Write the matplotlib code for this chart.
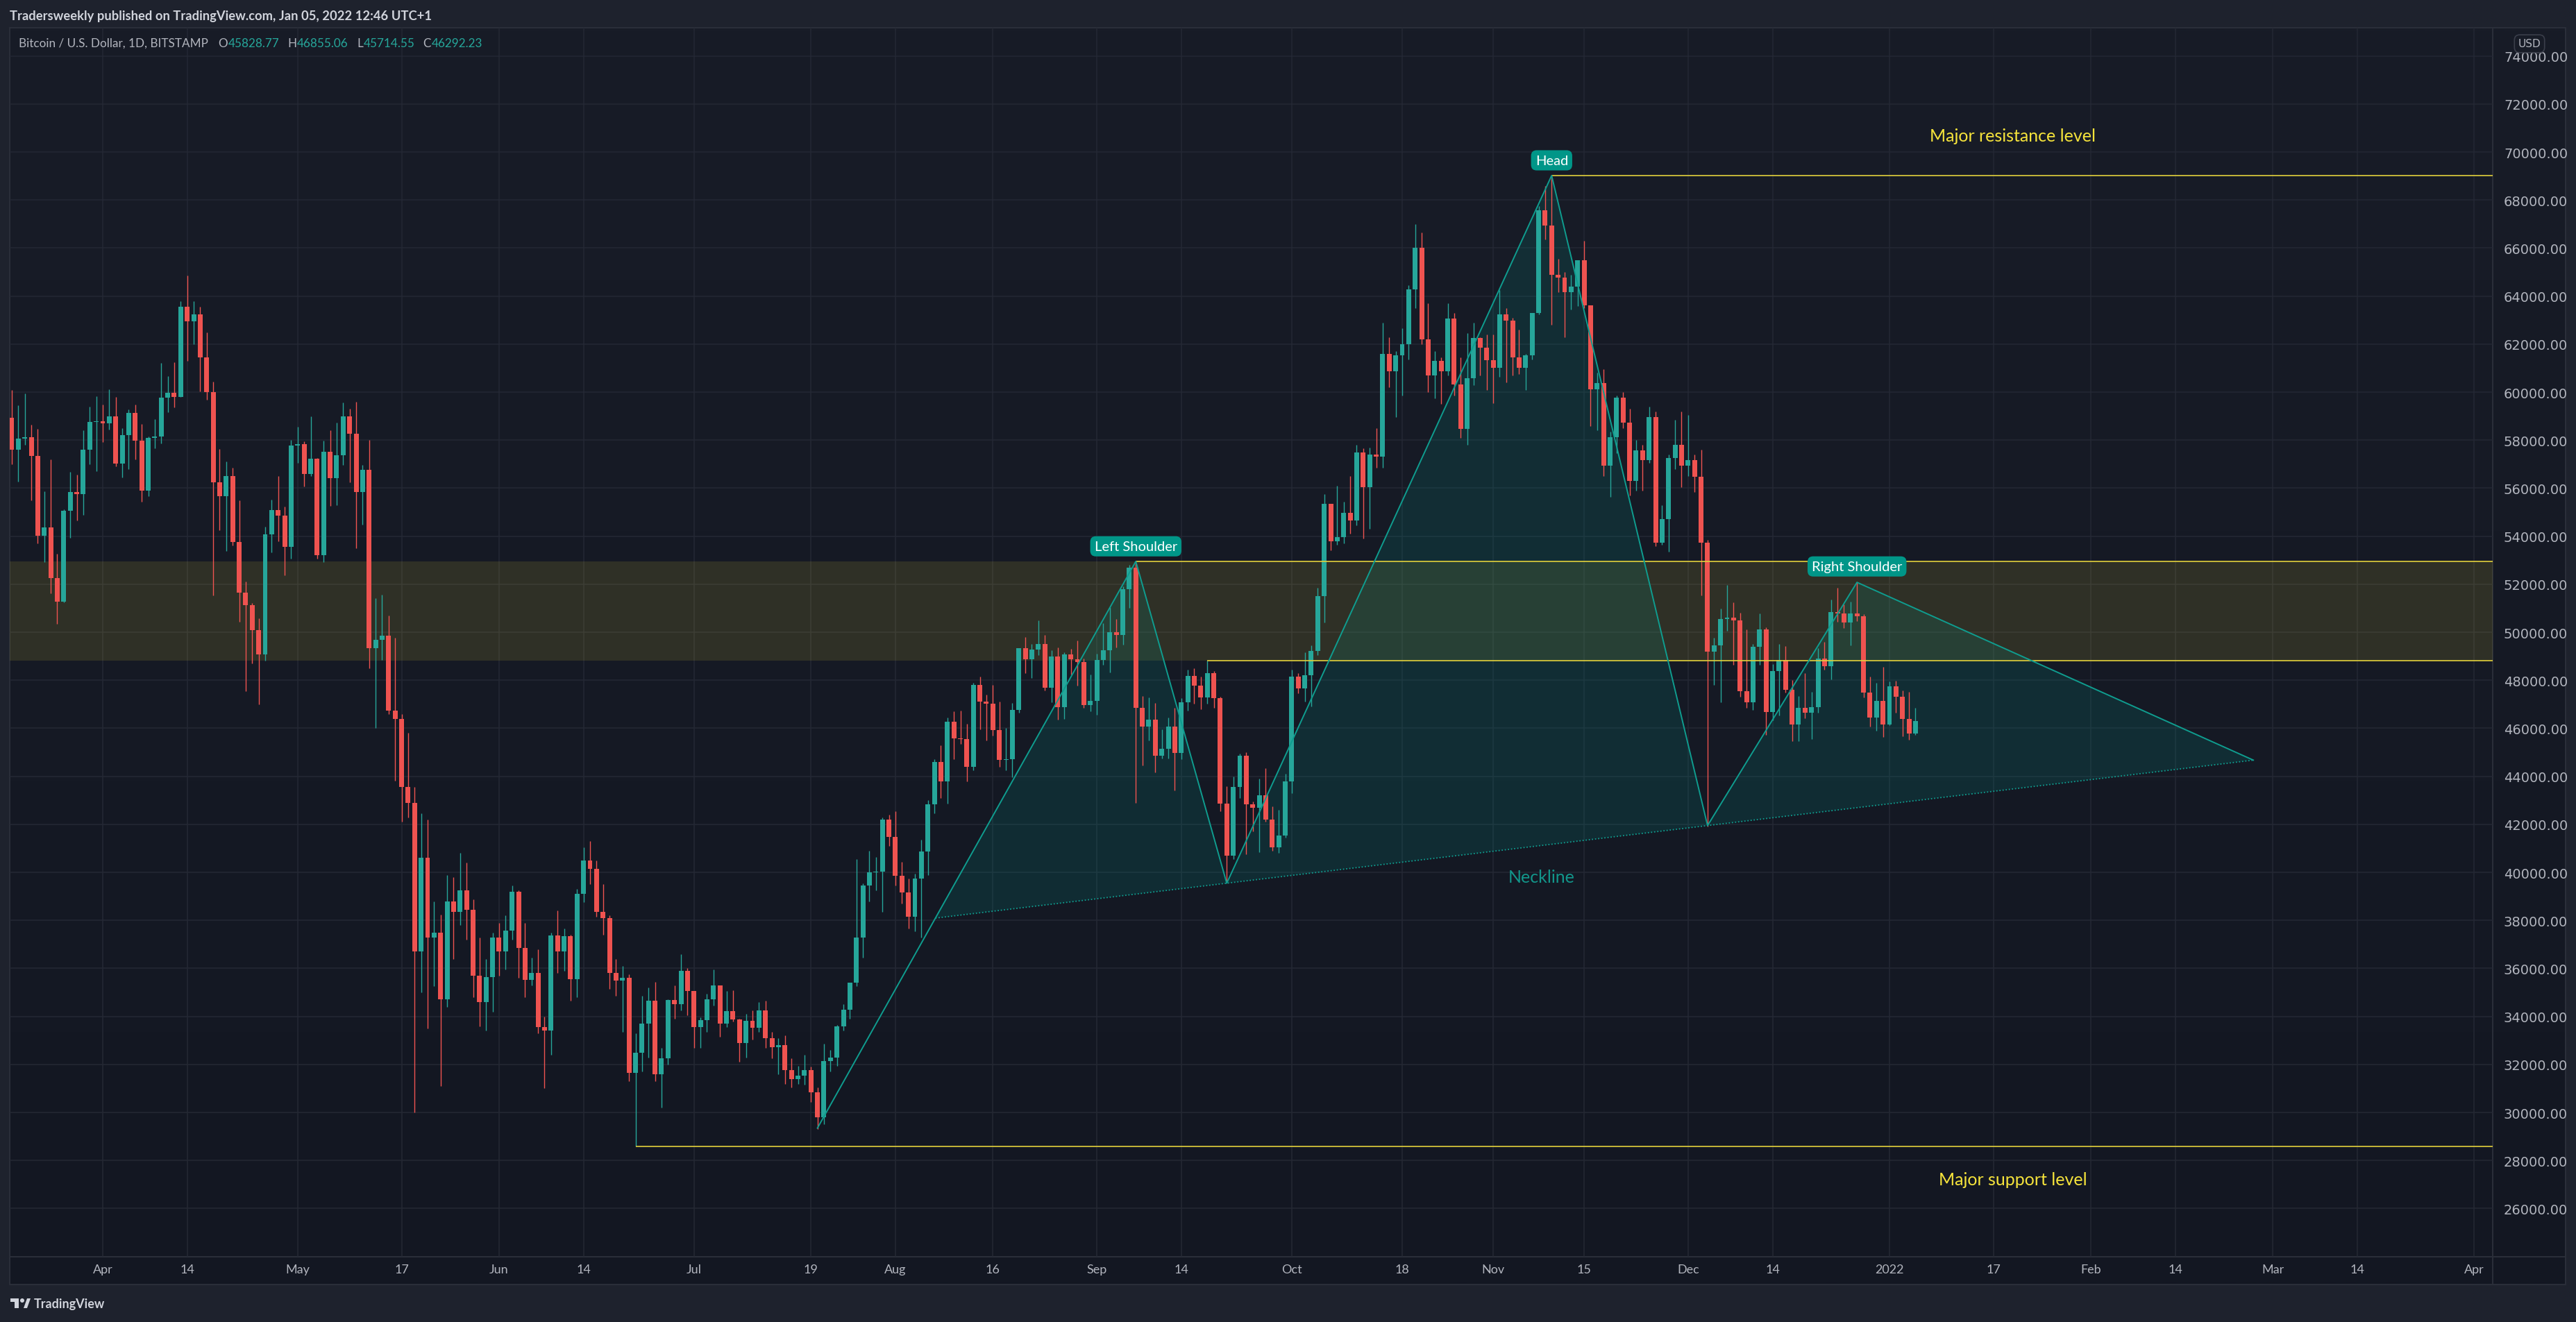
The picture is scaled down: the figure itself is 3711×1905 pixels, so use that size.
import matplotlib
matplotlib.use("Agg")
import matplotlib.pyplot as plt
import matplotlib.dates as mdates
import numpy as np
import pandas as pd
from matplotlib.patches import Polygon, Rectangle, Circle

plt.rcParams['font.family'] = ['Lato', 'DejaVu Sans']

# ---------- daily candles BTC/USD (BITSTAMP), 2021-03-18 .. 2022-01-05 ----------
start_day = "2021-03-18"
first_open = 58930
closes = [
    57613, 58066, 58124, 57353, 54020, 54367, 52266, 51284, 55060, 55841, 55764, 57604, 58760, 58789,
    58712, 58991, 57035, 58210, 59135, 57989, 55908, 58095, 58150, 59771, 59974, 59800, 63550, 62960, 63250,
    61450, 60003, 56255, 55667, 56515, 53760, 51650, 51130, 50089, 49077, 54078, 55089, 54858, 53567, 57777,
    57835, 56602, 57228, 53220, 57517, 56429, 57372, 58991, 58278, 55850, 56766, 49347, 49684, 49858, 46750,
    46400, 43550, 42880, 36700, 40600, 37300, 37500, 34700, 38800, 38350, 39250, 38450, 35700, 34600, 35650, 37300,
    36700, 37570, 39200, 36850, 35520, 35800, 33560, 33400, 37380, 36700, 37340, 35550, 39100, 40500, 40150,
    38350, 38100, 35800, 35500, 35600, 31650, 32500, 33700, 34650, 31600, 32250, 34680, 34500, 35900, 35050,
    33550, 33850, 34700, 35300, 33700, 34230, 33870, 32880, 33820, 33520, 34260, 33100, 32720, 32820, 31780,
    31400, 31530, 31780, 30830, 29800, 32130, 32300, 33600, 34280, 35400, 37300, 39450, 40000, 40030, 42200, 41480,
    39850, 39150, 38150, 39750, 40880, 42830, 44600, 43800, 46280, 45580, 45550, 44400, 47800, 47100, 47030,
    45930, 44690, 44700, 46760, 49330, 48870, 49290, 49512, 47700, 48991, 46882, 49078, 48876, 48760, 46978, 47142,
    48847, 49252, 50003, 49897, 51795, 52681, 46850, 46080, 46370, 44850, 45160, 46060, 44960, 47090, 48180,
    47780, 47280, 48290, 47260, 42850, 40690, 43570, 44870, 42830, 42690, 43200, 42190, 41030, 41520, 43790,
    48140, 47650, 48200, 49220, 51510, 55360, 53800, 53970, 54960, 54660, 57480, 56040, 57400, 57320, 61590,
    60880, 61530, 62010, 64280, 66000, 62210, 60690, 61290, 60860, 63080, 60330, 58460, 60590, 62250, 61860, 61340,
    61000, 63230, 62970, 61450, 61010, 61530, 63310, 67575, 66949, 64880, 64770, 64150, 64400, 65500, 63620,
    60110, 60370, 56940, 58120, 59760, 58730, 56300, 57570, 57170, 58960, 53730, 54720, 57270, 57810, 56950,
    57180, 56480, 53722, 49194, 49454, 50552, 50610, 50494, 47556, 47093, 49396, 50119, 46689, 48385, 48847,
    47614, 46169, 46853, 46660, 46882, 48905, 48597, 50841, 50783, 50417, 50783, 50677, 47498, 46458, 47142, 46169,
    47749, 47325, 46400, 45793, 46292,
]
highs = [
    60080, 59453, 59945, 58644, 58471, 55870, 57199, 53268, 55118, 56679, 56563, 58413, 59396, 59829,
    59482, 60118, 59800, 58500, 59280, 59482, 58673, 58153, 58875, 61216, 60667, 61245, 63800, 64870, 63800,
    63550, 62500, 60426, 57633, 57112, 56852, 55494, 52112, 51216, 50581, 54396, 55523, 56505, 55234, 58008,
    58557, 57951, 58991, 57257, 57980, 58413, 58731, 59569, 59309, 59598, 56968, 58008, 51428, 51563, 50696,
    49770, 46600, 45800, 43550, 42450, 42200, 38800, 38250, 39900, 39800, 40800, 40400, 38880, 37300, 36400, 37500,
    37900, 38200, 39450, 39250, 37900, 36450, 36800, 34000, 37500, 38400, 37650, 37400, 39300, 41050, 41300,
    40500, 39500, 38200, 36400, 36100, 35750, 33300, 34850, 35200, 35450, 32700, 34700, 35300, 36600, 36000,
    35050, 33950, 34950, 35950, 35300, 35050, 35100, 33900, 34100, 34250, 34600, 34650, 33350, 33100, 33200,
    32250, 31950, 32400, 31900, 31050, 32850, 32600, 33650, 34500, 35400, 40550, 39550, 40900, 40650, 42300, 42400,
    42550, 40450, 39750, 39950, 41350, 43000, 44700, 45300, 46450, 46700, 46750, 46200, 47900, 48150, 47400,
    47800, 47100, 46000, 47050, 49350, 49800, 49500, 50500, 49887, 49252, 49367, 49165, 49310, 49656, 48905, 48250,
    49107, 50379, 51043, 50552, 51910, 52806, 52950, 47350, 47300, 47050, 45950, 46450, 46850, 47250, 48450,
    48500, 48154, 48828, 48385, 47315, 43600, 44000, 44950, 45000, 42950, 43900, 44350, 42750, 42600, 44100,
    48450, 48300, 49150, 49450, 51850, 55750, 55350, 56100, 55450, 56500, 57800, 57650, 57700, 58500, 62900,
    62300, 61700, 62650, 64450, 67000, 66650, 63700, 61700, 61450, 63700, 63300, 61450, 62450, 62900, 62300, 62400,
    62400, 64250, 63500, 63100, 62600, 61600, 63300, 67750, 68577, 69020, 65550, 65000, 64900, 65500, 66300,
    63600, 60800, 60950, 58350, 59850, 60000, 59300, 58000, 57800, 59400, 59200, 55300, 57400, 58850, 59200,
    59050, 57400, 57600, 53850, 49772, 50986, 51968, 51246, 50812, 50119, 49512, 50783, 50206, 48674, 49512,
    49425, 48009, 47344, 48298, 47517, 49339, 49599, 51361, 51853, 51169, 51275, 52084, 50740, 48153, 47893, 48558,
    47951, 47980, 47575, 47517, 46855,
]
lows = [
    56997, 56284, 57816, 55503, 53712, 52931, 51630, 50359, 51255, 53943, 54665, 54896, 56997, 56718,
    57931, 58451, 56920, 56457, 56804, 57209, 55446, 55677, 57671, 57864, 59164, 59367, 59800, 61300, 62000,
    60031, 59685, 51534, 54251, 53384, 53606, 50436, 47546, 48702, 46997, 48827, 53326, 53789, 52372, 53076,
    57054, 56081, 56515, 53076, 52931, 55272, 55301, 56978, 56255, 53509, 54492, 48509, 46000, 48856, 46600,
    43820, 42100, 42300, 30000, 35000, 33500, 35250, 31100, 34400, 36400, 37800, 37200, 34800, 33600, 33400, 34200,
    35700, 35950, 37200, 35600, 34800, 35300, 33300, 31000, 32400, 35800, 35900, 34650, 34800, 38750, 39500,
    38150, 37400, 35150, 34850, 33350, 31300, 28600, 31700, 32300, 31300, 30200, 32000, 33900, 34250, 34050,
    32700, 32700, 33350, 34450, 33150, 33550, 33800, 32100, 32300, 33050, 33350, 32700, 32250, 31600, 31200,
    31050, 31200, 31150, 30450, 29300, 29500, 31700, 31950, 33400, 33900, 35250, 36450, 38800, 39250, 38350, 41100,
    39450, 38700, 37650, 37550, 37300, 39900, 42450, 43100, 42850, 44700, 45350, 43800, 44250, 45950, 45500,
    45700, 44400, 44250, 43950, 46650, 48300, 48100, 49050, 47585, 47093, 46350, 46400, 48250, 47787, 46850, 46700,
    46550, 48635, 48337, 49377, 49493, 51024, 42900, 44450, 45500, 44150, 44750, 44750, 43400, 44700, 46750,
    47026, 46800, 47026, 46850, 42550, 39600, 40550, 43100, 40750, 41700, 40850, 42100, 40900, 40800, 41450,
    43300, 47450, 47100, 46900, 49050, 50400, 53400, 53650, 53700, 54100, 54450, 53900, 54300, 56850, 56850,
    60200, 58950, 59850, 61350, 63500, 62000, 60000, 59750, 59500, 60700, 59850, 58100, 57800, 60300, 60700, 60100,
    59550, 60650, 60400, 60700, 60750, 60100, 61350, 63250, 66350, 62800, 64150, 62300, 63450, 63600, 63500,
    58600, 58400, 56500, 55650, 57450, 58500, 55700, 55900, 55900, 57050, 53600, 53650, 53350, 56800, 56050,
    56500, 55850, 51544, 41920, 47816, 47093, 50061, 48645, 47325, 46862, 46776, 48645, 45735, 46342, 46544,
    47498, 45475, 45475, 46429, 45562, 46660, 48452, 48048, 50446, 50186, 49464, 50475, 47296, 46082, 45909, 45648,
    46130, 46660, 45677, 45533, 45714,
]
last_ohlc = ["45828.77", "46855.06", "45714.55", "46292.23"]

# levels and pattern pivots (date, price)
zone_low, zone_high = 48830, 52950
resistance = 69020
support = 28600
hs_dates = ["2021-07-20", "2021-09-07", "2021-09-21", "2021-11-10", "2021-12-04", "2021-12-27", "2022-02-26"]
hs_prices = [29350, 52950, 39550, 69020, 41950, 52080]

xtick_dates = ["2021-04-01", "2021-04-14", "2021-05-01", "2021-05-17", "2021-06-01", "2021-06-14",
               "2021-07-01", "2021-07-19", "2021-08-01", "2021-08-16", "2021-09-01", "2021-09-14",
               "2021-10-01", "2021-10-18", "2021-11-01", "2021-11-15", "2021-12-01", "2021-12-14",
               "2022-01-01", "2022-01-17", "2022-02-01", "2022-02-14", "2022-03-01", "2022-03-14", "2022-04-01"]
xtick_labels = ["Apr", "14", "May", "17", "Jun", "14", "Jul", "19", "Aug", "16", "Sep", "14",
                "Oct", "18", "Nov", "15", "Dec", "14", "2022", "17", "Feb", "14", "Mar", "14", "Apr"]
price_ticks = list(range(26000, 76000, 2000))

UP, DN = "#26a69a", "#ef5350"
TEAL = "#0f9d8f"
YEL = "#e3d13c"
GRID = "#242834"
BORDER = "#2a2e39"

W, H = 3711, 1906
CH_L, CH_T, CH_R, CH_B = 14, 41, 3591, 1812
AX_R, AX_B = 3696, 1852


def day(s):
    return mdates.date2num(pd.Timestamp(s))


fig = plt.figure(figsize=(W / 100, H / 100), dpi=100, facecolor="#1e222d")

# ---------- background panel ----------
bg = fig.add_axes([0, 0, 1, 1], zorder=0)
g = np.linspace(0, 1, 256)[:, None, None]
top_c = np.array([24, 28, 39]) / 255
bot_c = np.array([19, 23, 34]) / 255
bg.imshow(top_c + (bot_c - top_c) * g, extent=(CH_L, AX_R, AX_B, CH_T), aspect="auto",
          interpolation="bilinear")
bg.plot([CH_L, AX_R, AX_R, CH_L, CH_L], [CH_T, CH_T, AX_B, AX_B, CH_T], color=BORDER, lw=1.5)
bg.plot([CH_R, CH_R], [CH_T, AX_B], color=BORDER, lw=1.5)
bg.plot([CH_L, AX_R], [CH_B, CH_B], color=BORDER, lw=1.5)
bg.set_xlim(0, W)
bg.set_ylim(H, 0)
bg.axis("off")

# ---------- main chart ----------
ax = fig.add_axes([CH_L / W, 1 - CH_B / H, (CH_R - CH_L) / W, (CH_B - CH_T) / H], zorder=2)
ax.set_facecolor("none")
for sp in ax.spines.values():
    sp.set_visible(False)

x0 = day("2021-04-01")
ax.set_xlim(x0 - (148 - CH_L) / 9.36, x0 + (CH_R - 148) / 9.36)
ax.set_ylim(23991, 75176)

ax.set_yticks(price_ticks)
ax.set_yticklabels([f"{v:.2f}" for v in price_ticks], family="DejaVu Sans")
ax.yaxis.tick_right()
ax.tick_params(axis="y", length=0, pad=11.5, labelsize=14, labelcolor="#b2b5be")
ax.set_xticks([day(d) for d in xtick_dates])
ax.set_xticklabels(xtick_labels)
ax.tick_params(axis="x", length=0, pad=7, labelsize=13, labelcolor="#b2b5be")
ax.grid(True, color=GRID, lw=1.1, zorder=0)
ax.set_axisbelow(True)

xmax = ax.get_xlim()[1]

# support / resistance zone
ax.axhspan(zone_low, zone_high, color="#ffeb3b", alpha=0.115, lw=0, zorder=1)
ax.hlines(zone_high, day("2021-09-07"), xmax, color=YEL, lw=1.2, zorder=6)
ax.hlines(zone_low, day("2021-09-18"), xmax, color=YEL, lw=1.2, zorder=6)
ax.hlines(resistance, day("2021-11-10"), xmax, color=YEL, lw=1.2, zorder=6)
ax.hlines(support, day("2021-06-22"), xmax, color=YEL, lw=1.2, zorder=6)

# candles
dates = pd.date_range(start_day, periods=len(closes), freq="D")
xs = mdates.date2num(dates)
c = np.array(closes, dtype=float)
o = np.concatenate([[first_open], c[:-1]])  # 24/7 market: open = previous close
hi = np.maximum(np.array(highs, dtype=float), np.maximum(o, c))
lo = np.minimum(np.array(lows, dtype=float), np.minimum(o, c))
cols = np.where(c >= o, UP, DN)
ax.vlines(xs, lo, hi, colors=cols, lw=1.0, zorder=3)
ax.bar(xs, np.maximum(np.abs(c - o), 35), bottom=np.minimum(o, c), width=0.74,
       color=cols, lw=0, zorder=4)

# head & shoulders drawing
px = [day(d) for d in hs_dates]
p0, ls, n1, hd, n2, rs = [(px[i], hs_prices[i]) for i in range(6)]
slope = (n2[1] - n1[1]) / (n2[0] - n1[0])
p6 = (px[6], n2[1] + slope * (px[6] - n2[0]))
k = (ls[1] - p0[1]) / (ls[0] - p0[0])
xi = (n1[1] - slope * n1[0] - p0[1] + k * p0[0]) / (k - slope)
ip = (xi, n1[1] + slope * (xi - n1[0]))
fill_kw = dict(closed=True, fc=(0, 150 / 255, 136 / 255, 0.16), ec="none", zorder=2)
for tri in ([ip, ls, n1], [n1, hd, n2], [n2, rs, p6]):
    ax.add_patch(Polygon(tri, **fill_kw))
path = [p0, ls, n1, hd, n2, rs, p6]
ax.plot([p[0] for p in path], [p[1] for p in path], color=TEAL, lw=1.4, zorder=7)
ax.plot([ip[0], p6[0]], [ip[1], p6[1]], color=TEAL, lw=1.3, ls=(0, (1, 1.5)), zorder=7)

tag_kw = dict(ha="center", va="center", color="white", fontsize=14.5, zorder=9,
              bbox=dict(boxstyle="round,pad=0.3,rounding_size=0.4", fc="#009688", ec="none"))
ax.text(ls[0], 53580, "Left Shoulder", **tag_kw)
ax.text(hd[0], 69655, "Head", **tag_kw)
ax.text(rs[0], 52742, "Right Shoulder", **tag_kw)

ax.text(day("2021-11-08") + 0.4, 39820, "Neckline", color="#12958a", fontsize=18,
        ha="center", va="center", zorder=9)
ax.text(day("2022-01-20"), 70696, "Major resistance level", color="#f5e33b", fontsize=18,
        ha="center", va="center", zorder=9)
ax.text(day("2022-01-20"), 27215, "Major support level", color="#f5e33b", fontsize=18,
        ha="center", va="center", zorder=9)

# ---------- overlay: title, legend, logo ----------
ov = fig.add_axes([0, 0, 1, 1], zorder=5)
ov.set_xlim(0, W)
ov.set_ylim(H, 0)
ov.axis("off")
ov.patch.set_alpha(0)

ov.text(14, 23, "Tradersweekly published on TradingView.com, Jan 05, 2022 12:46 UTC+1",
        color="#d1d4dc", fontsize=13.2, fontweight="bold", va="center", ha="left")

GRAY = "#b2b5be"
pieces = [("Bitcoin / U.S. Dollar, 1D, BITSTAMP", GRAY, 0),
          ("O", GRAY, 13), (last_ohlc[0], UP, 0),
          ("H", GRAY, 11), (last_ohlc[1], UP, 0),
          ("L", GRAY, 11), (last_ohlc[2], UP, 0),
          ("C", GRAY, 11), (last_ohlc[3], UP, 0)]
prev = None
for s, col, gap in pieces:
    if prev is None:
        prev = ov.text(27, 63, s, color=col, fontsize=12.3, va="center", ha="left")
    else:
        prev = ov.annotate(s, xy=(1, 0.5), xycoords=prev, xytext=(gap + 1, 0),
                           textcoords="offset pixels", color=col, fontsize=12.3,
                           va="center", ha="left")

ov.text(3644, 64, "USD", color="#b2b5be", fontsize=11, family="DejaVu Sans",
        ha="center", va="center",
        bbox=dict(boxstyle="round,pad=0.35,rounding_size=0.5", fc="#181c27", ec="#3a3e4a", lw=1.2))

# TradingView logo at the bottom
ov.add_patch(Rectangle((15, 1872), 12, 5, color="#d1d4dc", lw=0))
ov.add_patch(Rectangle((21, 1872), 6, 14, color="#d1d4dc", lw=0))
ov.add_patch(Circle((32, 1875), 3, color="#d1d4dc", lw=0))
ov.add_patch(Polygon([(34, 1886), (39, 1872), (44, 1872), (39, 1886)], closed=True, color="#d1d4dc", lw=0))
ov.text(49, 1880, "TradingView", color="#d1d4dc", fontsize=13, fontweight="bold",
        va="center", ha="left")

fig.savefig("out.png", dpi=100, facecolor=fig.get_facecolor())
